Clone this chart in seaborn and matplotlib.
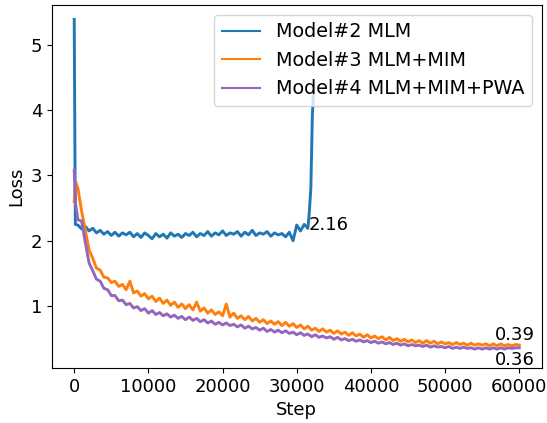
import pandas as pd
import seaborn as sns
import matplotlib.pyplot as plt

# Model#2 MLM (blue): ends with a divergence spike around step 32k
blue_step = [0, 150] + list(range(500, 31501, 500)) + [31700, 31900, 32100, 32300]
blue_loss = [5.39, 2.25,
             2.24, 2.18, 2.22, 2.15, 2.19, 2.12, 2.16, 2.10, 2.14, 2.08,
             2.13, 2.07, 2.12, 2.09, 2.13, 2.06, 2.11, 2.05, 2.12, 2.08,
             2.03, 2.11, 2.06, 2.10, 2.04, 2.12, 2.07, 2.10, 2.05, 2.11,
             2.08, 2.13, 2.06, 2.11, 2.08, 2.14, 2.07, 2.12, 2.09, 2.15,
             2.08, 2.12, 2.10, 2.14, 2.07, 2.13, 2.09, 2.16, 2.08, 2.12,
             2.10, 2.14, 2.07, 2.12, 2.09, 2.11, 2.06, 2.13, 2.00, 2.24,
             2.15, 2.25, 2.19,
             2.45, 2.80, 3.90, 4.40]

# Model#3 / Model#4 share the same step grid
step = [0, 200, 500] + list(range(1000, 60001, 500))
orange_loss = [2.60, 2.90, 2.80,
               2.45, 2.16, 1.86, 1.73, 1.58, 1.55, 1.44, 1.43, 1.36, 1.38,
               1.30, 1.33, 1.25, 1.38, 1.20, 1.23, 1.15, 1.19, 1.11, 1.15,
               1.07, 1.12, 1.04, 1.09, 1.01, 1.06, 0.98, 1.03, 0.96, 1.02,
               0.94, 1.06, 0.92, 0.97, 0.89, 0.94, 0.87, 0.91, 0.85, 1.03,
               0.83, 0.89, 0.81, 0.85, 0.79, 0.84, 0.77, 0.81, 0.75, 0.79,
               0.73, 0.77, 0.72, 0.76, 0.70, 0.75, 0.69, 0.73, 0.67, 0.71,
               0.65, 0.69, 0.63, 0.66, 0.61, 0.65, 0.60, 0.63, 0.58, 0.62,
               0.57, 0.60, 0.55, 0.59, 0.54, 0.57, 0.52, 0.56, 0.51, 0.54,
               0.50, 0.53, 0.48, 0.52, 0.47, 0.50, 0.46, 0.49, 0.45, 0.48,
               0.44, 0.47, 0.43, 0.47, 0.43, 0.46, 0.42, 0.45, 0.42, 0.44,
               0.41, 0.44, 0.41, 0.43, 0.40, 0.43, 0.40, 0.42, 0.40, 0.42,
               0.39, 0.42, 0.39, 0.42, 0.39, 0.41, 0.39, 0.41, 0.40]
purple_loss = [3.08, 2.55, 2.32,
               2.30, 1.97, 1.66, 1.54, 1.41, 1.38, 1.27, 1.25, 1.16, 1.16,
               1.08, 1.09, 1.02, 1.04, 0.97, 0.99, 0.93, 0.96, 0.89, 0.93,
               0.87, 0.90, 0.85, 0.88, 0.83, 0.86, 0.81, 0.84, 0.79, 0.83,
               0.78, 0.81, 0.76, 0.79, 0.74, 0.77, 0.72, 0.75, 0.71, 0.74,
               0.70, 0.72, 0.68, 0.71, 0.66, 0.69, 0.65, 0.67, 0.63, 0.66,
               0.61, 0.64, 0.60, 0.63, 0.59, 0.62, 0.58, 0.60, 0.56, 0.59,
               0.55, 0.57, 0.53, 0.56, 0.52, 0.54, 0.51, 0.53, 0.49, 0.52,
               0.48, 0.50, 0.47, 0.49, 0.46, 0.48, 0.45, 0.47, 0.44, 0.46,
               0.43, 0.45, 0.42, 0.44, 0.41, 0.43, 0.40, 0.42, 0.39, 0.41,
               0.39, 0.40, 0.38, 0.40, 0.37, 0.39, 0.37, 0.38, 0.36, 0.38,
               0.35, 0.37, 0.35, 0.37, 0.35, 0.36, 0.34, 0.36, 0.34, 0.36,
               0.34, 0.36, 0.34, 0.36, 0.34, 0.36, 0.35, 0.36, 0.36]

labels = ["Model#2 MLM", "Model#3 MLM+MIM", "Model#4 MLM+MIM+PWA"]
colors = ["#1f77b4", "#ff7f0e", "#9467bd"]

# long format for seaborn
df = pd.concat([
    pd.DataFrame({"Step": blue_step, "Loss": blue_loss, "model": labels[0]}),
    pd.DataFrame({"Step": step, "Loss": orange_loss, "model": labels[1]}),
    pd.DataFrame({"Step": step, "Loss": purple_loss, "model": labels[2]}),
])

plt.rcParams["font.size"] = 13

fig, ax = plt.subplots(figsize=(5.47, 4.23), dpi=100)
sns.lineplot(data=df, x="Step", y="Loss", hue="model", palette=colors,
             estimator=None, linewidth=2.1, ax=ax)

ax.set_ylim(0.05, 5.61)
ax.set_xlim(-3000, 63000)

handles, labs = ax.get_legend_handles_labels()
leg = ax.legend(handles, labs, loc="upper right", fontsize=13.8)
for line in leg.get_lines():
    line.set_linewidth(1.5)

# final values
ax.text(31600, 2.16, "2.16")
ax.text(59400, 0.48, "0.39", ha="center")
ax.text(59400, 0.10, "0.36", ha="center")

fig.subplots_adjust(left=0.095, right=0.99, top=0.988, bottom=0.13)
fig.savefig("out.png", dpi=100)
